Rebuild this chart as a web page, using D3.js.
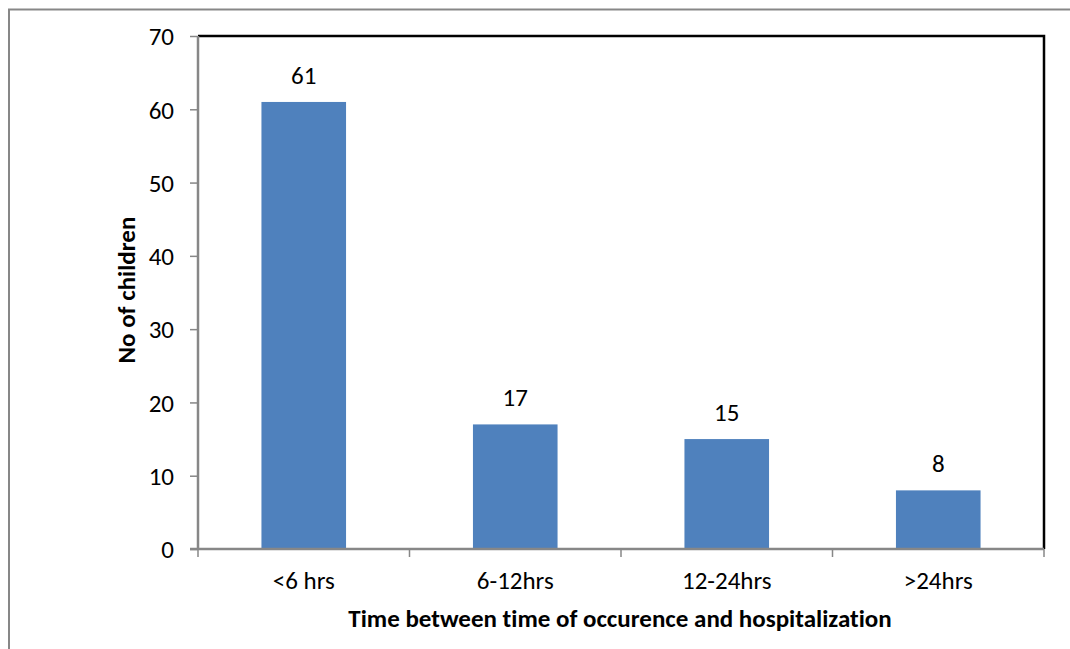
<!DOCTYPE html>
<html>
<head>
<meta charset="utf-8">
<script src="https://cdn.jsdelivr.net/npm/d3@7"></script>
<style>
html,body{margin:0;padding:0;background:#fff;}
svg{display:block;}
text{font-family:Carlito, Lato, "Open Sans", sans-serif;fill:#000;font-variant-ligatures:none;}
</style>
</head>
<body>
<svg id="chart" width="1070" height="649"></svg>
<script>
const categories = ["<6 hrs", "6-12hrs", "12-24hrs", ">24hrs"];
const values = [61, 17, 15, 8];
const yTicks = [0, 10, 20, 30, 40, 50, 60, 70];
const xTitle = "Time between time of occurence and hospitalization";
const yTitle = "No of children";

const svg = d3.select("#chart");
const W = 1070, H = 649;
const m = {left: 198, top: 36, right: 1044, bottom: 549};
const FS = "25px";

// outer frame (left and top edges visible)
svg.append("path")
  .attr("d", `M9,${H} L9,9.5 L${W},9.5`)
  .attr("fill", "none").attr("stroke", "#878787").attr("stroke-width", 2);

const x = d3.scaleBand().domain(categories).range([m.left, m.right]).paddingInner(0.6).paddingOuter(0.3);
const y = d3.scaleLinear().domain([0, 70]).range([m.bottom, m.top]);

// plot area top/right borders
svg.append("path")
  .attr("d", `M${m.left},${m.top} L${m.right},${m.top} L${m.right},${m.bottom}`)
  .attr("fill", "none").attr("stroke", "#000").attr("stroke-width", 2.5);

// bars
svg.selectAll("rect.bar").data(values).enter().append("rect")
  .attr("class", "bar")
  .attr("x", (d, i) => x(categories[i]))
  .attr("width", x.bandwidth())
  .attr("y", d => y(d))
  .attr("height", d => y(0) - y(d))
  .attr("fill", "#4F81BD");

// data labels
svg.selectAll("text.lbl").data(values).enter().append("text")
  .attr("class", "lbl")
  .attr("x", (d, i) => x(categories[i]) + x.bandwidth() / 2)
  .attr("y", d => y(d) - 18)
  .attr("text-anchor", "middle")
  .style("font-size", FS)
  .text(d => d);

// y axis
const yAxis = d3.axisLeft(y).tickValues(yTicks).tickSize(8).tickPadding(16).tickFormat(d3.format("d"));
const gy = svg.append("g").attr("transform", `translate(${m.left},0)`).call(yAxis);
gy.select(".domain").attr("stroke", "#878787").attr("stroke-width", 2.5).attr("d", `M0,${m.top}V${m.bottom}`);
gy.selectAll(".tick line").attr("stroke", "#878787").attr("stroke-width", 1.5);
gy.selectAll(".tick text").style("font-size", FS).attr("fill", "#000").attr("dy", "0.35em");

// x axis
const gx = svg.append("g").attr("transform", `translate(0,${m.bottom})`).call(d3.axisBottom(x).tickSize(0).tickPadding(22));
gx.select(".domain").attr("stroke", "#878787").attr("stroke-width", 2.5).attr("d", `M${m.left - 8},0H${m.right}`);
gx.selectAll(".tick text").style("font-size", FS).attr("fill", "#000");
// category boundary ticks
const bounds = d3.range(categories.length + 1).map(i => m.left + i * x.step());
svg.selectAll("line.bt").data(bounds).enter().append("line")
  .attr("class", "bt")
  .attr("x1", d => d).attr("x2", d => d)
  .attr("y1", m.bottom).attr("y2", m.bottom + 8)
  .attr("stroke", "#878787").attr("stroke-width", 1.5);

// titles
svg.append("text")
  .attr("x", (m.left + m.right) / 2 - 1)
  .attr("y", 627)
  .attr("text-anchor", "middle")
  .style("font-size", FS).style("font-weight", "bold")
  .text(xTitle);

svg.append("text")
  .attr("transform", `translate(135,290) rotate(-90)`)
  .attr("text-anchor", "middle")
  .style("font-size", FS).style("font-weight", "bold")
  .text(yTitle);
</script>
</body>
</html>
